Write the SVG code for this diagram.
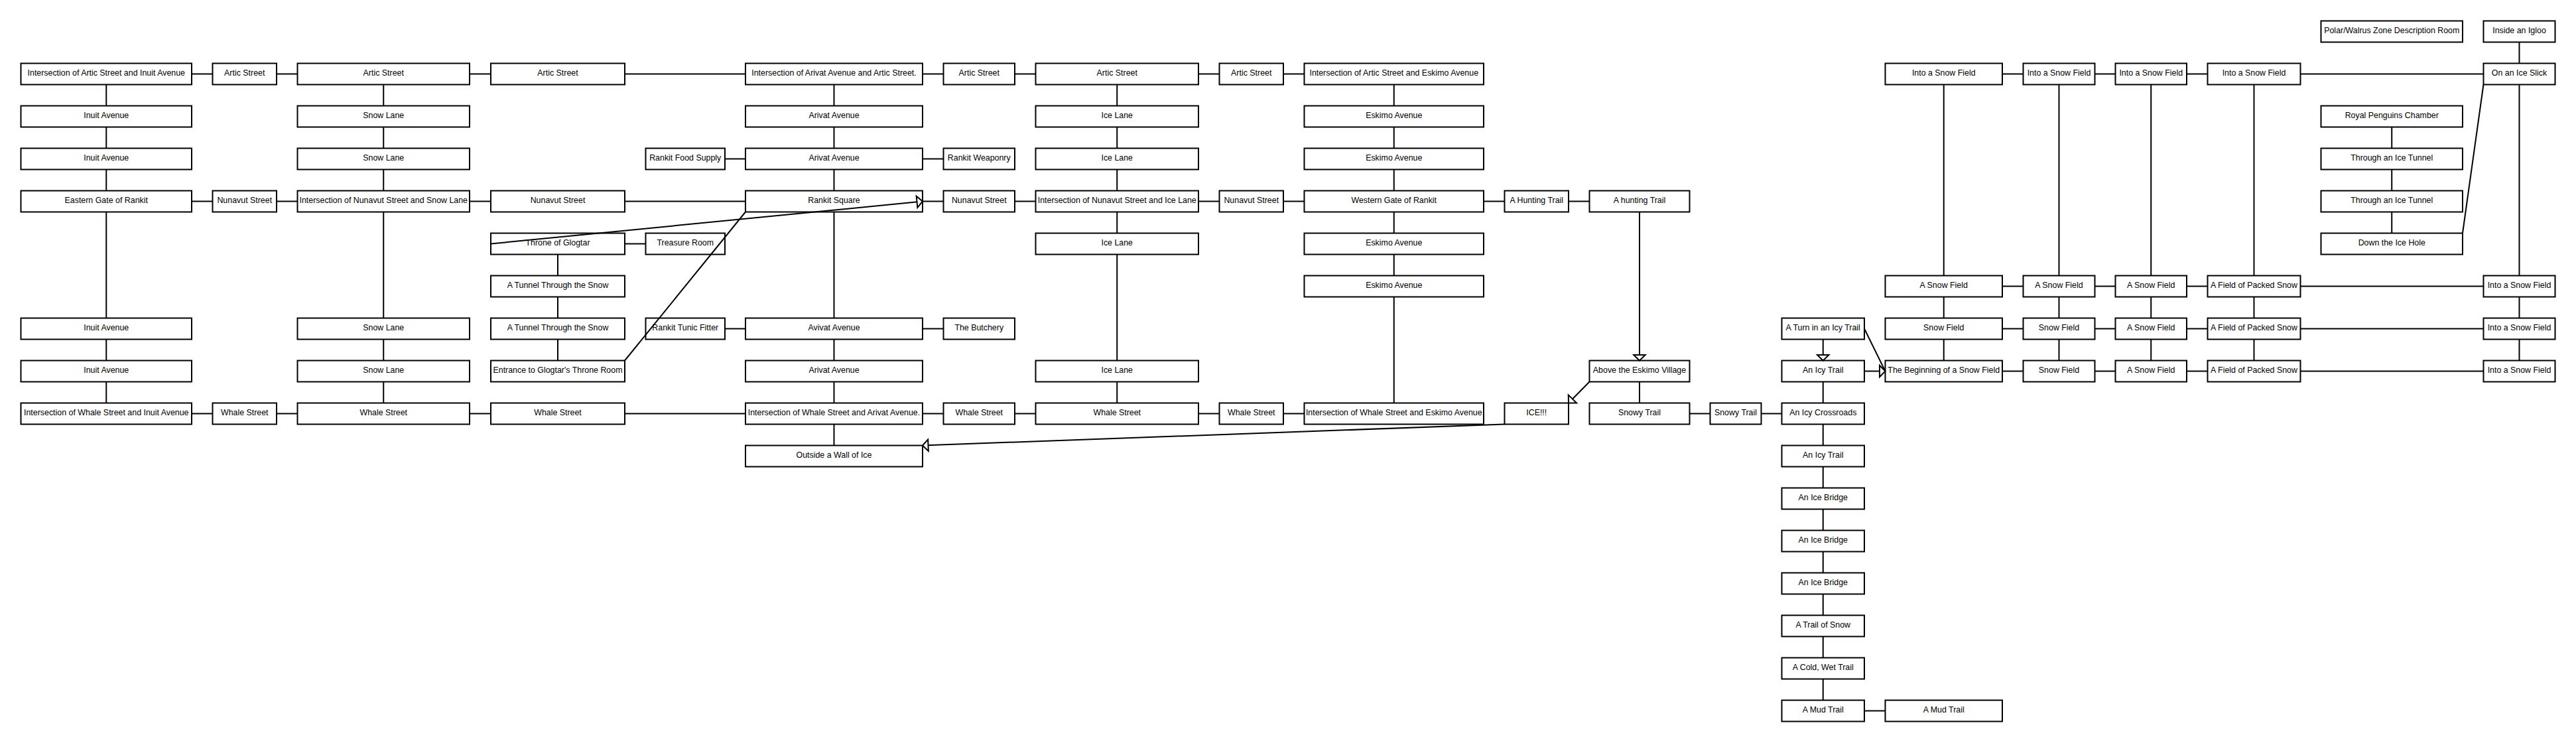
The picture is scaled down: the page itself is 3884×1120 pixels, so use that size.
<svg xmlns="http://www.w3.org/2000/svg" width="3884" height="1120" viewBox="0 0 3884 1120">
<style>
.n rect{fill:#fff;stroke:#000;stroke-width:2}
.n text{font-family:"Liberation Sans",Arial,sans-serif;font-size:12.4px;fill:#000;text-anchor:middle}
#edges line{stroke:#000;stroke-width:2;fill:none}
</style>
<defs>
<marker id="ah" viewBox="-11 -11 13 22" refX="0" refY="0" markerWidth="13" markerHeight="22" markerUnits="userSpaceOnUse" orient="auto" overflow="visible">
<path d="M0,0 L-8.5,-8.7 L-8.5,8.7 Z" fill="#fff" stroke="#000" stroke-width="2"/>
</marker>
</defs>
<rect width="3884" height="1120" fill="#fff"/>
<g id="a0" class="n"><rect x="31.5" y="95.5" width="257.5" height="32"/><text x="160.25" y="113.5">Intersection of Artic Street and Inuit Avenue</text></g>
<g id="a1" class="n"><rect x="31.5" y="159.5" width="257.5" height="32"/><text x="160.25" y="177.5">Inuit Avenue</text></g>
<g id="a2" class="n"><rect x="31.5" y="223.5" width="257.5" height="32"/><text x="160.25" y="241.5">Inuit Avenue</text></g>
<g id="a3" class="n"><rect x="31.5" y="287.5" width="257.5" height="32"/><text x="160.25" y="305.5">Eastern Gate of Rankit</text></g>
<g id="a6" class="n"><rect x="31.5" y="479.5" width="257.5" height="32"/><text x="160.25" y="497.5">Inuit Avenue</text></g>
<g id="a7" class="n"><rect x="31.5" y="543.5" width="257.5" height="32"/><text x="160.25" y="561.5">Inuit Avenue</text></g>
<g id="a8" class="n"><rect x="31.5" y="607.5" width="257.5" height="32"/><text x="160.25" y="625.5">Intersection of Whale Street and Inuit Avenue</text></g>
<g id="b0" class="n"><rect x="320.5" y="95.5" width="96.5" height="32"/><text x="368.75" y="113.5">Artic Street</text></g>
<g id="b3" class="n"><rect x="320.5" y="287.5" width="96.5" height="32"/><text x="368.75" y="305.5">Nunavut Street</text></g>
<g id="b8" class="n"><rect x="320.5" y="607.5" width="96.5" height="32"/><text x="368.75" y="625.5">Whale Street</text></g>
<g id="c0" class="n"><rect x="448.5" y="95.5" width="259.5" height="32"/><text x="578.25" y="113.5">Artic Street</text></g>
<g id="c1" class="n"><rect x="448.5" y="159.5" width="259.5" height="32"/><text x="578.25" y="177.5">Snow Lane</text></g>
<g id="c2" class="n"><rect x="448.5" y="223.5" width="259.5" height="32"/><text x="578.25" y="241.5">Snow Lane</text></g>
<g id="c3" class="n"><rect x="448.5" y="287.5" width="259.5" height="32"/><text x="578.25" y="305.5">Intersection of Nunavut Street and Snow Lane</text></g>
<g id="c6" class="n"><rect x="448.5" y="479.5" width="259.5" height="32"/><text x="578.25" y="497.5">Snow Lane</text></g>
<g id="c7" class="n"><rect x="448.5" y="543.5" width="259.5" height="32"/><text x="578.25" y="561.5">Snow Lane</text></g>
<g id="c8" class="n"><rect x="448.5" y="607.5" width="259.5" height="32"/><text x="578.25" y="625.5">Whale Street</text></g>
<g id="d0" class="n"><rect x="740" y="95.5" width="202" height="32"/><text x="841" y="113.5">Artic Street</text></g>
<g id="d3" class="n"><rect x="740" y="287.5" width="202" height="32"/><text x="841" y="305.5">Nunavut Street</text></g>
<g id="d4" class="n"><rect x="740" y="351.5" width="202" height="32"/><text x="841" y="369.5">Throne of Glogtar</text></g>
<g id="d5" class="n"><rect x="740" y="415.5" width="202" height="32"/><text x="841" y="433.5">A Tunnel Through the Snow</text></g>
<g id="d6" class="n"><rect x="740" y="479.5" width="202" height="32"/><text x="841" y="497.5">A Tunnel Through the Snow</text></g>
<g id="d7" class="n"><rect x="740" y="543.5" width="202" height="32"/><text x="841" y="561.5">Entrance to Glogtar's Throne Room</text></g>
<g id="d8" class="n"><rect x="740" y="607.5" width="202" height="32"/><text x="841" y="625.5">Whale Street</text></g>
<g id="e1_2" class="n"><rect x="973.5" y="223.5" width="119.5" height="32"/><text x="1033.25" y="241.5">Rankit Food Supply</text></g>
<g id="e1_4" class="n"><rect x="973.5" y="351.5" width="119.5" height="32"/><text x="1033.25" y="369.5">Treasure Room</text></g>
<g id="e1_6" class="n"><rect x="973.5" y="479.5" width="119.5" height="32"/><text x="1033.25" y="497.5">Rankit Tunic Fitter</text></g>
<g id="e0" class="n"><rect x="1124" y="95.5" width="267" height="32"/><text x="1257.5" y="113.5">Intersection of Arivat Avenue and Artic Street.</text></g>
<g id="e1" class="n"><rect x="1124" y="159.5" width="267" height="32"/><text x="1257.5" y="177.5">Arivat Avenue</text></g>
<g id="e2" class="n"><rect x="1124" y="223.5" width="267" height="32"/><text x="1257.5" y="241.5">Arivat Avenue</text></g>
<g id="e3" class="n"><rect x="1124" y="287.5" width="267" height="32"/><text x="1257.5" y="305.5">Rankit Square</text></g>
<g id="e6" class="n"><rect x="1124" y="479.5" width="267" height="32"/><text x="1257.5" y="497.5">Avivat Avenue</text></g>
<g id="e7" class="n"><rect x="1124" y="543.5" width="267" height="32"/><text x="1257.5" y="561.5">Arivat Avenue</text></g>
<g id="e8" class="n"><rect x="1124" y="607.5" width="267" height="32"/><text x="1257.5" y="625.5">Intersection of Whale Street and Arivat Avenue.</text></g>
<g id="e9" class="n"><rect x="1124" y="671.5" width="267" height="32"/><text x="1257.5" y="689.5">Outside a Wall of Ice</text></g>
<g id="f0" class="n"><rect x="1422.5" y="95.5" width="107.5" height="32"/><text x="1476.25" y="113.5">Artic Street</text></g>
<g id="f2" class="n"><rect x="1422.5" y="223.5" width="107.5" height="32"/><text x="1476.25" y="241.5">Rankit Weaponry</text></g>
<g id="f3" class="n"><rect x="1422.5" y="287.5" width="107.5" height="32"/><text x="1476.25" y="305.5">Nunavut Street</text></g>
<g id="f6" class="n"><rect x="1422.5" y="479.5" width="107.5" height="32"/><text x="1476.25" y="497.5">The Butchery</text></g>
<g id="f8" class="n"><rect x="1422.5" y="607.5" width="107.5" height="32"/><text x="1476.25" y="625.5">Whale Street</text></g>
<g id="g0" class="n"><rect x="1561.5" y="95.5" width="245.5" height="32"/><text x="1684.25" y="113.5">Artic Street</text></g>
<g id="g1" class="n"><rect x="1561.5" y="159.5" width="245.5" height="32"/><text x="1684.25" y="177.5">Ice Lane</text></g>
<g id="g2" class="n"><rect x="1561.5" y="223.5" width="245.5" height="32"/><text x="1684.25" y="241.5">Ice Lane</text></g>
<g id="g3" class="n"><rect x="1561.5" y="287.5" width="245.5" height="32"/><text x="1684.25" y="305.5">Intersection of Nunavut Street and Ice Lane</text></g>
<g id="g4" class="n"><rect x="1561.5" y="351.5" width="245.5" height="32"/><text x="1684.25" y="369.5">Ice Lane</text></g>
<g id="g7" class="n"><rect x="1561.5" y="543.5" width="245.5" height="32"/><text x="1684.25" y="561.5">Ice Lane</text></g>
<g id="g8" class="n"><rect x="1561.5" y="607.5" width="245.5" height="32"/><text x="1684.25" y="625.5">Whale Street</text></g>
<g id="h0" class="n"><rect x="1838.5" y="95.5" width="96.5" height="32"/><text x="1886.75" y="113.5">Artic Street</text></g>
<g id="h3" class="n"><rect x="1838.5" y="287.5" width="96.5" height="32"/><text x="1886.75" y="305.5">Nunavut Street</text></g>
<g id="h8" class="n"><rect x="1838.5" y="607.5" width="96.5" height="32"/><text x="1886.75" y="625.5">Whale Street</text></g>
<g id="i0" class="n"><rect x="1966.5" y="95.5" width="270.5" height="32"/><text x="2101.75" y="113.5">Intersection of Artic Street and Eskimo Avenue</text></g>
<g id="i1" class="n"><rect x="1966.5" y="159.5" width="270.5" height="32"/><text x="2101.75" y="177.5">Eskimo Avenue</text></g>
<g id="i2" class="n"><rect x="1966.5" y="223.5" width="270.5" height="32"/><text x="2101.75" y="241.5">Eskimo Avenue</text></g>
<g id="i3" class="n"><rect x="1966.5" y="287.5" width="270.5" height="32"/><text x="2101.75" y="305.5">Western Gate of Rankit</text></g>
<g id="i4" class="n"><rect x="1966.5" y="351.5" width="270.5" height="32"/><text x="2101.75" y="369.5">Eskimo Avenue</text></g>
<g id="i5" class="n"><rect x="1966.5" y="415.5" width="270.5" height="32"/><text x="2101.75" y="433.5">Eskimo Avenue</text></g>
<g id="i8" class="n"><rect x="1966.5" y="607.5" width="270.5" height="32"/><text x="2101.75" y="625.5">Intersection of Whale Street and Eskimo Avenue</text></g>
<g id="j3" class="n"><rect x="2268.5" y="287.5" width="96.5" height="32"/><text x="2316.75" y="305.5">A Hunting Trail</text></g>
<g id="j8" class="n"><rect x="2268.5" y="607.5" width="96.5" height="32"/><text x="2316.75" y="625.5">ICE!!!</text></g>
<g id="k3" class="n"><rect x="2396.5" y="287.5" width="151" height="32"/><text x="2472" y="305.5">A hunting Trail</text></g>
<g id="k7" class="n"><rect x="2396.5" y="543.5" width="151" height="32"/><text x="2472" y="561.5">Above the Eskimo Village</text></g>
<g id="k8" class="n"><rect x="2396.5" y="607.5" width="151" height="32"/><text x="2472" y="625.5">Snowy Trail</text></g>
<g id="l8" class="n"><rect x="2578.5" y="607.5" width="77" height="32"/><text x="2617" y="625.5">Snowy Trail</text></g>
<g id="m6" class="n"><rect x="2686.5" y="479.5" width="124.5" height="32"/><text x="2748.75" y="497.5">A Turn in an Icy Trail</text></g>
<g id="m7" class="n"><rect x="2686.5" y="543.5" width="124.5" height="32"/><text x="2748.75" y="561.5">An Icy Trail</text></g>
<g id="m8" class="n"><rect x="2686.5" y="607.5" width="124.5" height="32"/><text x="2748.75" y="625.5">An Icy Crossroads</text></g>
<g id="m9" class="n"><rect x="2686.5" y="671.5" width="124.5" height="32"/><text x="2748.75" y="689.5">An Icy Trail</text></g>
<g id="m10" class="n"><rect x="2686.5" y="735.5" width="124.5" height="32"/><text x="2748.75" y="753.5">An Ice Bridge</text></g>
<g id="m11" class="n"><rect x="2686.5" y="799.5" width="124.5" height="32"/><text x="2748.75" y="817.5">An Ice Bridge</text></g>
<g id="m12" class="n"><rect x="2686.5" y="863.5" width="124.5" height="32"/><text x="2748.75" y="881.5">An Ice Bridge</text></g>
<g id="m13" class="n"><rect x="2686.5" y="927.5" width="124.5" height="32"/><text x="2748.75" y="945.5">A Trail of Snow</text></g>
<g id="m14" class="n"><rect x="2686.5" y="991.5" width="124.5" height="32"/><text x="2748.75" y="1009.5">A Cold, Wet Trail</text></g>
<g id="m15" class="n"><rect x="2686.5" y="1055.5" width="124.5" height="32"/><text x="2748.75" y="1073.5">A Mud Trail</text></g>
<g id="n0" class="n"><rect x="2842.5" y="95.5" width="176.5" height="32"/><text x="2930.75" y="113.5">Into a Snow Field</text></g>
<g id="n5" class="n"><rect x="2842.5" y="415.5" width="176.5" height="32"/><text x="2930.75" y="433.5">A Snow Field</text></g>
<g id="n6" class="n"><rect x="2842.5" y="479.5" width="176.5" height="32"/><text x="2930.75" y="497.5">Snow Field</text></g>
<g id="n7" class="n"><rect x="2842.5" y="543.5" width="176.5" height="32"/><text x="2930.75" y="561.5">The Beginning of a Snow Field</text></g>
<g id="n15" class="n"><rect x="2842.5" y="1055.5" width="176.5" height="32"/><text x="2930.75" y="1073.5">A Mud Trail</text></g>
<g id="o0" class="n"><rect x="3050.5" y="95.5" width="108" height="32"/><text x="3104.5" y="113.5">Into a Snow Field</text></g>
<g id="o5" class="n"><rect x="3050.5" y="415.5" width="108" height="32"/><text x="3104.5" y="433.5">A Snow Field</text></g>
<g id="o6" class="n"><rect x="3050.5" y="479.5" width="108" height="32"/><text x="3104.5" y="497.5">Snow Field</text></g>
<g id="o7" class="n"><rect x="3050.5" y="543.5" width="108" height="32"/><text x="3104.5" y="561.5">Snow Field</text></g>
<g id="p0" class="n"><rect x="3189.5" y="95.5" width="107.5" height="32"/><text x="3243.25" y="113.5">Into a Snow Field</text></g>
<g id="p5" class="n"><rect x="3189.5" y="415.5" width="107.5" height="32"/><text x="3243.25" y="433.5">A Snow Field</text></g>
<g id="p6" class="n"><rect x="3189.5" y="479.5" width="107.5" height="32"/><text x="3243.25" y="497.5">A Snow Field</text></g>
<g id="p7" class="n"><rect x="3189.5" y="543.5" width="107.5" height="32"/><text x="3243.25" y="561.5">A Snow Field</text></g>
<g id="q0" class="n"><rect x="3328.5" y="95.5" width="140" height="32"/><text x="3398.5" y="113.5">Into a Snow Field</text></g>
<g id="q5" class="n"><rect x="3328.5" y="415.5" width="140" height="32"/><text x="3398.5" y="433.5">A Field of Packed Snow</text></g>
<g id="q6" class="n"><rect x="3328.5" y="479.5" width="140" height="32"/><text x="3398.5" y="497.5">A Field of Packed Snow</text></g>
<g id="q7" class="n"><rect x="3328.5" y="543.5" width="140" height="32"/><text x="3398.5" y="561.5">A Field of Packed Snow</text></g>
<g id="r_1" class="n"><rect x="3499.5" y="31.5" width="213.5" height="32"/><text x="3606.25" y="49.5">Polar/Walrus Zone Description Room</text></g>
<g id="r1" class="n"><rect x="3499.5" y="159.5" width="213.5" height="32"/><text x="3606.25" y="177.5">Royal Penguins Chamber</text></g>
<g id="r2" class="n"><rect x="3499.5" y="223.5" width="213.5" height="32"/><text x="3606.25" y="241.5">Through an Ice Tunnel</text></g>
<g id="r3" class="n"><rect x="3499.5" y="287.5" width="213.5" height="32"/><text x="3606.25" y="305.5">Through an Ice Tunnel</text></g>
<g id="r4" class="n"><rect x="3499.5" y="351.5" width="213.5" height="32"/><text x="3606.25" y="369.5">Down the Ice Hole</text></g>
<g id="s_1" class="n"><rect x="3744.5" y="31.5" width="108" height="32"/><text x="3798.5" y="49.5">Inside an Igloo</text></g>
<g id="s0" class="n"><rect x="3744.5" y="95.5" width="108" height="32"/><text x="3798.5" y="113.5">On an Ice Slick</text></g>
<g id="s5" class="n"><rect x="3744.5" y="415.5" width="108" height="32"/><text x="3798.5" y="433.5">Into a Snow Field</text></g>
<g id="s6" class="n"><rect x="3744.5" y="479.5" width="108" height="32"/><text x="3798.5" y="497.5">Into a Snow Field</text></g>
<g id="s7" class="n"><rect x="3744.5" y="543.5" width="108" height="32"/><text x="3798.5" y="561.5">Into a Snow Field</text></g>
<g id="edges">
<line x1="289" y1="111.5" x2="320.5" y2="111.5"/>
<line x1="417" y1="111.5" x2="448.5" y2="111.5"/>
<line x1="708" y1="111.5" x2="740" y2="111.5"/>
<line x1="942" y1="111.5" x2="1124" y2="111.5"/>
<line x1="1391" y1="111.5" x2="1422.5" y2="111.5"/>
<line x1="1530" y1="111.5" x2="1561.5" y2="111.5"/>
<line x1="1807" y1="111.5" x2="1838.5" y2="111.5"/>
<line x1="1935" y1="111.5" x2="1966.5" y2="111.5"/>
<line x1="3019" y1="111.5" x2="3050.5" y2="111.5"/>
<line x1="3158.5" y1="111.5" x2="3189.5" y2="111.5"/>
<line x1="3297" y1="111.5" x2="3328.5" y2="111.5"/>
<line x1="3468.5" y1="111.5" x2="3744.5" y2="111.5"/>
<line x1="1093" y1="239.5" x2="1124" y2="239.5"/>
<line x1="1391" y1="239.5" x2="1422.5" y2="239.5"/>
<line x1="289" y1="303.5" x2="320.5" y2="303.5"/>
<line x1="417" y1="303.5" x2="448.5" y2="303.5"/>
<line x1="708" y1="303.5" x2="740" y2="303.5"/>
<line x1="942" y1="303.5" x2="1124" y2="303.5"/>
<line x1="1391" y1="303.5" x2="1422.5" y2="303.5"/>
<line x1="1530" y1="303.5" x2="1561.5" y2="303.5"/>
<line x1="1807" y1="303.5" x2="1838.5" y2="303.5"/>
<line x1="1935" y1="303.5" x2="1966.5" y2="303.5"/>
<line x1="2237" y1="303.5" x2="2268.5" y2="303.5"/>
<line x1="2365" y1="303.5" x2="2396.5" y2="303.5"/>
<line x1="942" y1="367.5" x2="973.5" y2="367.5"/>
<line x1="3019" y1="431.5" x2="3050.5" y2="431.5"/>
<line x1="3158.5" y1="431.5" x2="3189.5" y2="431.5"/>
<line x1="3297" y1="431.5" x2="3328.5" y2="431.5"/>
<line x1="3468.5" y1="431.5" x2="3744.5" y2="431.5"/>
<line x1="1093" y1="495.5" x2="1124" y2="495.5"/>
<line x1="1391" y1="495.5" x2="1422.5" y2="495.5"/>
<line x1="3019" y1="495.5" x2="3050.5" y2="495.5"/>
<line x1="3158.5" y1="495.5" x2="3189.5" y2="495.5"/>
<line x1="3297" y1="495.5" x2="3328.5" y2="495.5"/>
<line x1="3468.5" y1="495.5" x2="3744.5" y2="495.5"/>
<line x1="3019" y1="559.5" x2="3050.5" y2="559.5"/>
<line x1="3158.5" y1="559.5" x2="3189.5" y2="559.5"/>
<line x1="3297" y1="559.5" x2="3328.5" y2="559.5"/>
<line x1="3468.5" y1="559.5" x2="3744.5" y2="559.5"/>
<line x1="289" y1="623.5" x2="320.5" y2="623.5"/>
<line x1="417" y1="623.5" x2="448.5" y2="623.5"/>
<line x1="708" y1="623.5" x2="740" y2="623.5"/>
<line x1="942" y1="623.5" x2="1124" y2="623.5"/>
<line x1="1391" y1="623.5" x2="1422.5" y2="623.5"/>
<line x1="1530" y1="623.5" x2="1561.5" y2="623.5"/>
<line x1="1807" y1="623.5" x2="1838.5" y2="623.5"/>
<line x1="1935" y1="623.5" x2="1966.5" y2="623.5"/>
<line x1="2547.5" y1="623.5" x2="2578.5" y2="623.5"/>
<line x1="2655.5" y1="623.5" x2="2686.5" y2="623.5"/>
<line x1="2811" y1="1071.5" x2="2842.5" y2="1071.5"/>
<line x1="160.25" y1="127.5" x2="160.25" y2="159.5"/>
<line x1="160.25" y1="191.5" x2="160.25" y2="223.5"/>
<line x1="160.25" y1="255.5" x2="160.25" y2="287.5"/>
<line x1="160.25" y1="319.5" x2="160.25" y2="479.5"/>
<line x1="160.25" y1="511.5" x2="160.25" y2="543.5"/>
<line x1="160.25" y1="575.5" x2="160.25" y2="607.5"/>
<line x1="578.25" y1="127.5" x2="578.25" y2="159.5"/>
<line x1="578.25" y1="191.5" x2="578.25" y2="223.5"/>
<line x1="578.25" y1="255.5" x2="578.25" y2="287.5"/>
<line x1="578.25" y1="319.5" x2="578.25" y2="479.5"/>
<line x1="578.25" y1="511.5" x2="578.25" y2="543.5"/>
<line x1="578.25" y1="575.5" x2="578.25" y2="607.5"/>
<line x1="841" y1="383.5" x2="841" y2="415.5"/>
<line x1="841" y1="447.5" x2="841" y2="479.5"/>
<line x1="841" y1="511.5" x2="841" y2="543.5"/>
<line x1="1257.5" y1="127.5" x2="1257.5" y2="159.5"/>
<line x1="1257.5" y1="191.5" x2="1257.5" y2="223.5"/>
<line x1="1257.5" y1="255.5" x2="1257.5" y2="287.5"/>
<line x1="1257.5" y1="319.5" x2="1257.5" y2="479.5"/>
<line x1="1257.5" y1="511.5" x2="1257.5" y2="543.5"/>
<line x1="1257.5" y1="575.5" x2="1257.5" y2="607.5"/>
<line x1="1257.5" y1="639.5" x2="1257.5" y2="671.5"/>
<line x1="1684.25" y1="127.5" x2="1684.25" y2="159.5"/>
<line x1="1684.25" y1="191.5" x2="1684.25" y2="223.5"/>
<line x1="1684.25" y1="255.5" x2="1684.25" y2="287.5"/>
<line x1="1684.25" y1="319.5" x2="1684.25" y2="351.5"/>
<line x1="1684.25" y1="383.5" x2="1684.25" y2="543.5"/>
<line x1="1684.25" y1="575.5" x2="1684.25" y2="607.5"/>
<line x1="2101.75" y1="127.5" x2="2101.75" y2="159.5"/>
<line x1="2101.75" y1="191.5" x2="2101.75" y2="223.5"/>
<line x1="2101.75" y1="255.5" x2="2101.75" y2="287.5"/>
<line x1="2101.75" y1="319.5" x2="2101.75" y2="351.5"/>
<line x1="2101.75" y1="383.5" x2="2101.75" y2="415.5"/>
<line x1="2101.75" y1="447.5" x2="2101.75" y2="607.5"/>
<line x1="2472" y1="319.5" x2="2472" y2="543.5" marker-end="url(#ah)"/>
<line x1="2472" y1="575.5" x2="2472" y2="607.5"/>
<line x1="2748.75" y1="511.5" x2="2748.75" y2="543.5" marker-end="url(#ah)"/>
<line x1="2748.75" y1="575.5" x2="2748.75" y2="607.5"/>
<line x1="2748.75" y1="639.5" x2="2748.75" y2="671.5"/>
<line x1="2748.75" y1="703.5" x2="2748.75" y2="735.5"/>
<line x1="2748.75" y1="767.5" x2="2748.75" y2="799.5"/>
<line x1="2748.75" y1="831.5" x2="2748.75" y2="863.5"/>
<line x1="2748.75" y1="895.5" x2="2748.75" y2="927.5"/>
<line x1="2748.75" y1="959.5" x2="2748.75" y2="991.5"/>
<line x1="2748.75" y1="1023.5" x2="2748.75" y2="1055.5"/>
<line x1="2930.75" y1="127.5" x2="2930.75" y2="415.5"/>
<line x1="2930.75" y1="447.5" x2="2930.75" y2="479.5"/>
<line x1="2930.75" y1="511.5" x2="2930.75" y2="543.5"/>
<line x1="3104.5" y1="127.5" x2="3104.5" y2="415.5"/>
<line x1="3104.5" y1="447.5" x2="3104.5" y2="479.5"/>
<line x1="3104.5" y1="511.5" x2="3104.5" y2="543.5"/>
<line x1="3243.25" y1="127.5" x2="3243.25" y2="415.5"/>
<line x1="3243.25" y1="447.5" x2="3243.25" y2="479.5"/>
<line x1="3243.25" y1="511.5" x2="3243.25" y2="543.5"/>
<line x1="3398.5" y1="127.5" x2="3398.5" y2="415.5"/>
<line x1="3398.5" y1="447.5" x2="3398.5" y2="479.5"/>
<line x1="3398.5" y1="511.5" x2="3398.5" y2="543.5"/>
<line x1="3606.25" y1="191.5" x2="3606.25" y2="223.5"/>
<line x1="3606.25" y1="255.5" x2="3606.25" y2="287.5"/>
<line x1="3606.25" y1="319.5" x2="3606.25" y2="351.5"/>
<line x1="3798.5" y1="63.5" x2="3798.5" y2="95.5"/>
<line x1="3798.5" y1="127.5" x2="3798.5" y2="415.5"/>
<line x1="3798.5" y1="447.5" x2="3798.5" y2="479.5"/>
<line x1="3798.5" y1="511.5" x2="3798.5" y2="543.5"/>
<line x1="942" y1="543.5" x2="1124" y2="319.5"/>
<line x1="740" y1="367.5" x2="1391" y2="303.5" marker-end="url(#ah)"/>
<line x1="2268.5" y1="639.5" x2="1391" y2="671.5" marker-end="url(#ah)"/>
<line x1="2396.5" y1="575.5" x2="2365" y2="607.5" marker-end="url(#ah)"/>
<line x1="2811" y1="495.5" x2="2842.5" y2="559.5"/>
<line x1="2811" y1="559.5" x2="2842.5" y2="559.5" marker-end="url(#ah)"/>
<line x1="3744.5" y1="127.5" x2="3713" y2="351.5"/>
</g>
</svg>
